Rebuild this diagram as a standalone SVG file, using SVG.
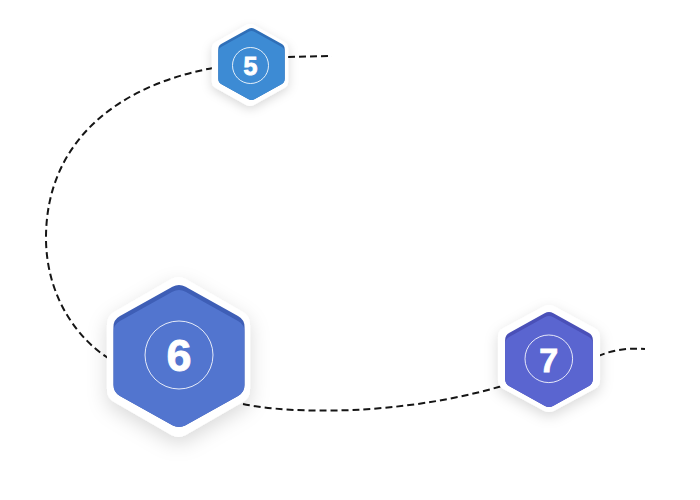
<svg xmlns="http://www.w3.org/2000/svg" xmlns:xlink="http://www.w3.org/1999/xlink" width="700" height="500" viewBox="0 0 700 500">
  <style>
    .conn { fill: none; stroke: #151515; stroke-width: 2; stroke-dasharray: 7 4; }
    .ring { fill: none; stroke: #ffffff; stroke-width: 1; stroke-opacity: 0.85; }
    .num { fill: #ffffff; stroke: #ffffff; stroke-width: 0.9; font-family: "Liberation Sans", Arial, sans-serif; font-weight: 700; text-anchor: middle; }
    .white { fill: #ffffff; }
  </style>
  <defs>
    <path id="hex" d="M 8.66,-95 L 77.94,-55 Q 86.6,-50 86.6,-40 L 86.6,40 Q 86.6,50 77.94,55 L 8.66,95 Q 0,100 -8.66,95 L -77.94,55 Q -86.6,50 -86.6,40 L -86.6,-40 Q -86.6,-50 -77.94,-55 L -8.66,-95 Q 0,-100 8.66,-95 Z"/>
    <filter id="shadow" x="-50%" y="-50%" width="200%" height="200%">
      <feDropShadow dx="0" dy="8" stdDeviation="12" flood-color="#000000" flood-opacity="0.15"/>
    </filter>
    <clipPath id="c5"><use xlink:href="#hex" transform="translate(251.5,64) scale(0.384,0.369)"/></clipPath>
    <clipPath id="c6"><use xlink:href="#hex" transform="translate(179,356) scale(0.757,0.728)"/></clipPath>
    <clipPath id="c7"><use xlink:href="#hex" transform="translate(549,359.5) scale(0.507,0.487)"/></clipPath>
  </defs>

  <g id="connectors">
    <path class="conn" d="M 288 57 L 332 56"/>
    <path class="conn" d="M 213 68 C 120 85, 45 140, 46 240 C 47 300, 80 340, 108 358"/>
    <path class="conn" d="M 243 404 C 290 414, 400 416, 502 386"/>
    <path class="conn" d="M 598 356 Q 620 347, 645 349"/>
  </g>

  <g id="node5">
    <use xlink:href="#hex" class="white" filter="url(#shadow)" transform="translate(250,65) scale(0.44,0.42)"/>
    <use xlink:href="#hex" fill="#2F6FB8" transform="translate(251.5,64) scale(0.384,0.369)"/>
    <g clip-path="url(#c5)">
      <use xlink:href="#hex" fill="#3D8BD4" transform="translate(251.5,67) scale(0.384,0.369)"/>
    </g>
    <circle class="ring" cx="250.5" cy="65.5" r="18"/>
    <text class="num" x="250.5" y="74.5" font-size="25">5</text>
  </g>

  <g id="node6">
    <use xlink:href="#hex" class="white" filter="url(#shadow)" transform="translate(178.5,357) scale(0.826,0.82)"/>
    <use xlink:href="#hex" fill="#3E5EB6" transform="translate(179,356) scale(0.757,0.728)"/>
    <g clip-path="url(#c6)">
      <use xlink:href="#hex" fill="#5275CF" transform="translate(179,361) scale(0.757,0.728)"/>
    </g>
    <circle class="ring" cx="179" cy="355" r="34"/>
    <text class="num" x="179" y="371" font-size="45">6</text>
  </g>

  <g id="node7">
    <use xlink:href="#hex" class="white" filter="url(#shadow)" transform="translate(549,358.5) scale(0.589,0.549)"/>
    <use xlink:href="#hex" fill="#4A50B8" transform="translate(549,359.5) scale(0.507,0.487)"/>
    <g clip-path="url(#c7)">
      <use xlink:href="#hex" fill="#5A65D0" transform="translate(549,363.5) scale(0.507,0.487)"/>
    </g>
    <circle class="ring" cx="548.8" cy="358.8" r="23.8"/>
    <text class="num" x="548.8" y="371.5" font-size="34">7</text>
  </g>
</svg>
